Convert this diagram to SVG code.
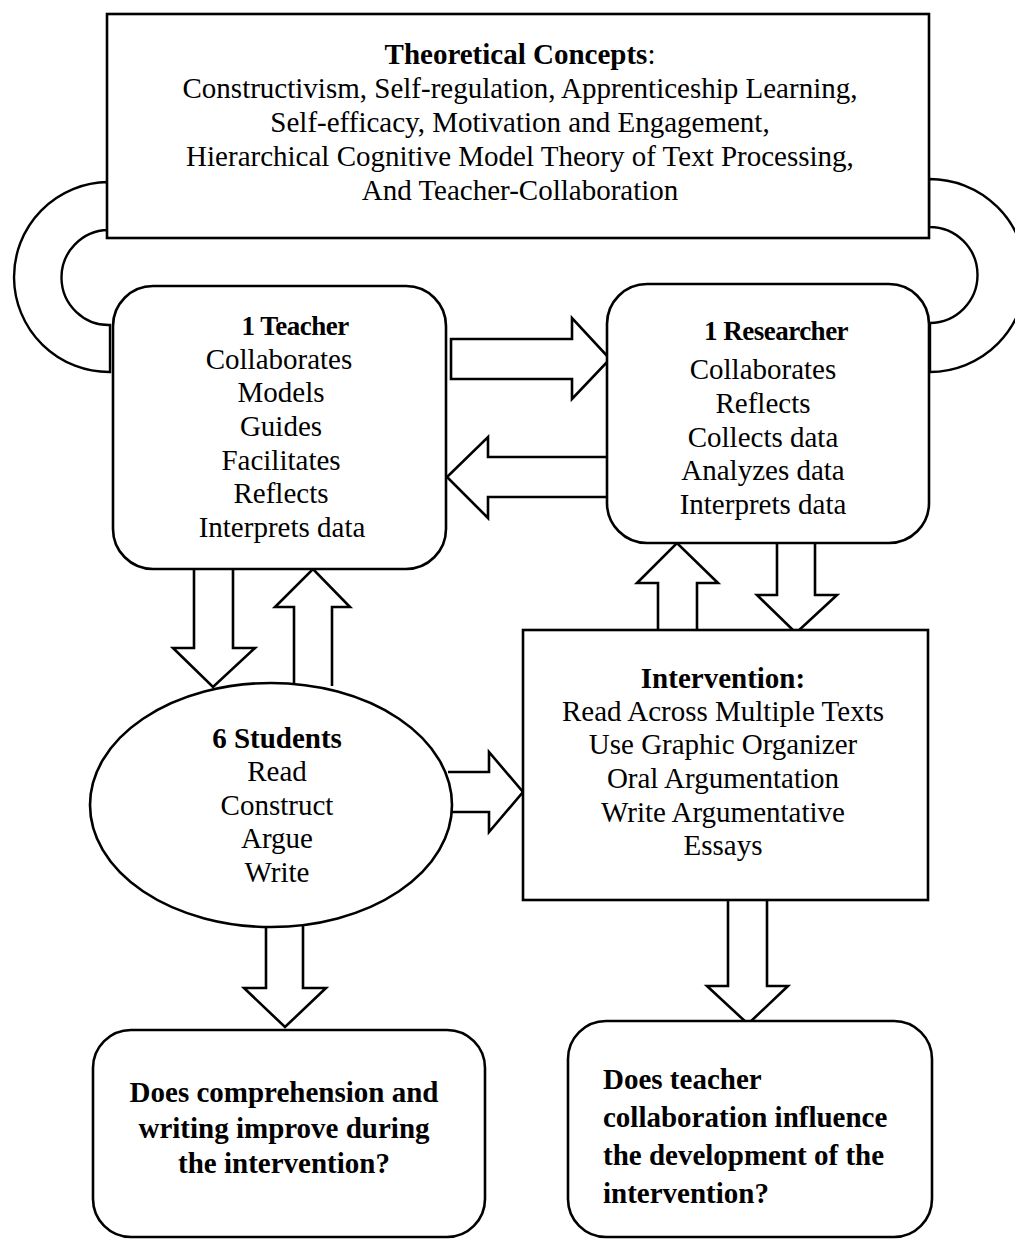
<svg xmlns="http://www.w3.org/2000/svg" width="1015" height="1239" viewBox="0 0 1015 1239">
<style>
.shape{fill:#fff;stroke:#000;stroke-width:2.6;stroke-linejoin:miter}
.arr{fill:#fff;stroke:#000;stroke-width:2.6;stroke-linejoin:miter}
.band{fill:#fff;stroke:#000;stroke-width:2.4}
text{font-family:"Liberation Serif","Times New Roman",serif;font-size:29px;fill:#000}
.c{text-anchor:middle}
.b{font-weight:bold}
.h{font-size:27px;letter-spacing:-0.5px}
</style>
<rect width="1015" height="1239" fill="#fff"/>
<g id="connectors">
  <path class="band" d="M108,182 A95,95 0 0 0 110,372 L110,325 A47.5,47.5 0 0 1 108,230 Z"/>
  <path class="band" d="M929,179 A96.5,96.5 0 0 1 930,372 L930,323 A48,48 0 0 0 929,227 Z"/>
  <path class="arr" d="M451,339 L572,339 L572,318 L610,359 L572,399 L572,379 L451,379 Z"/>
  <path class="arr" d="M607,457 L488,457 L488,437 L447,477 L488,518 L488,497 L607,497"/>
  <path class="arr" d="M194,569 L194,648 L173,648 L213,687 L255,648 L233,648 L233,569"/>
  <path class="arr" d="M294,686 L294,607 L275,607 L313,569 L350,607 L332,607 L332,686"/>
  <path class="arr" d="M658,630 L658,583 L637,583 L677,543 L718,583 L697,583 L697,630"/>
  <path class="arr" d="M777,543 L777,595 L757,595 L796,633 L837,595 L815,595 L815,543"/>
  <path class="arr" d="M448,772 L489,772 L489,752 L523,792 L489,832 L489,812 L448,812"/>
  <path class="arr" d="M266,924 L266,988 L244,988 L285,1027 L326,988 L303,988 L303,924"/>
  <path class="arr" d="M728,900 L728,986 L707,986 L748,1024 L788,986 L767,986 L767,900"/>
</g>
<g id="theory">
  <rect class="shape" x="107" y="14" width="822" height="224"/>
  <text class="c" x="520" y="64"><tspan class="b">Theoretical Concepts</tspan>:</text>
  <text class="c" x="520" y="98">Constructivism, Self-regulation, Apprenticeship Learning,</text>
  <text class="c" x="520" y="132">Self-efficacy, Motivation and Engagement,</text>
  <text class="c" x="520" y="166">Hierarchical Cognitive Model Theory of Text Processing,</text>
  <text class="c" x="520" y="200">And Teacher-Collaboration</text>
</g>
<g id="teacher">
  <rect class="shape" x="113" y="286" width="333" height="283" rx="40" ry="40"/>
  <text class="c b h" x="295" y="335">1 Teacher</text>
  <text class="c" x="279" y="369">Collaborates</text>
  <text class="c" x="281" y="402">Models</text>
  <text class="c" x="281" y="436">Guides</text>
  <text class="c" x="281" y="470">Facilitates</text>
  <text class="c" x="281" y="503">Reflects</text>
  <text class="c" x="282" y="537">Interprets data</text>
</g>
<g id="researcher">
  <rect class="shape" x="607" y="284" width="322" height="259" rx="40" ry="40"/>
  <text class="c b h" x="776" y="340">1 Researcher</text>
  <text class="c" x="763" y="379">Collaborates</text>
  <text class="c" x="763" y="413">Reflects</text>
  <text class="c" x="763" y="447">Collects data</text>
  <text class="c" x="763" y="480">Analyzes data</text>
  <text class="c" x="763" y="514">Interprets data</text>
</g>
<g id="students">
  <ellipse class="shape" cx="271" cy="805" rx="181" ry="122"/>
  <text class="c b" x="277" y="748">6 Students</text>
  <text class="c" x="277" y="781">Read</text>
  <text class="c" x="277" y="815">Construct</text>
  <text class="c" x="277" y="848">Argue</text>
  <text class="c" x="277" y="882">Write</text>
</g>
<g id="intervention">
  <rect class="shape" x="523" y="630" width="405" height="270"/>
  <text class="c b" x="723" y="688">Intervention:</text>
  <text class="c" x="723" y="721">Read Across Multiple Texts</text>
  <text class="c" x="723" y="754">Use Graphic Organizer</text>
  <text class="c" x="723" y="788">Oral Argumentation</text>
  <text class="c" x="723" y="822">Write Argumentative</text>
  <text class="c" x="723" y="855">Essays</text>
</g>
<g id="question1">
  <rect class="shape" x="93" y="1030" width="392" height="207" rx="38" ry="38"/>
  <text class="c b" x="284" y="1102">Does comprehension and</text>
  <text class="c b" x="284" y="1138">writing improve during</text>
  <text class="c b" x="284" y="1173">the intervention?</text>
</g>
<g id="question2">
  <rect class="shape" x="568" y="1021" width="364" height="216" rx="38" ry="38"/>
  <text class="b" x="603" y="1089">Does teacher</text>
  <text class="b" x="603" y="1127">collaboration influence</text>
  <text class="b" x="603" y="1165">the development of the</text>
  <text class="b" x="603" y="1203">intervention?</text>
</g>
</svg>
